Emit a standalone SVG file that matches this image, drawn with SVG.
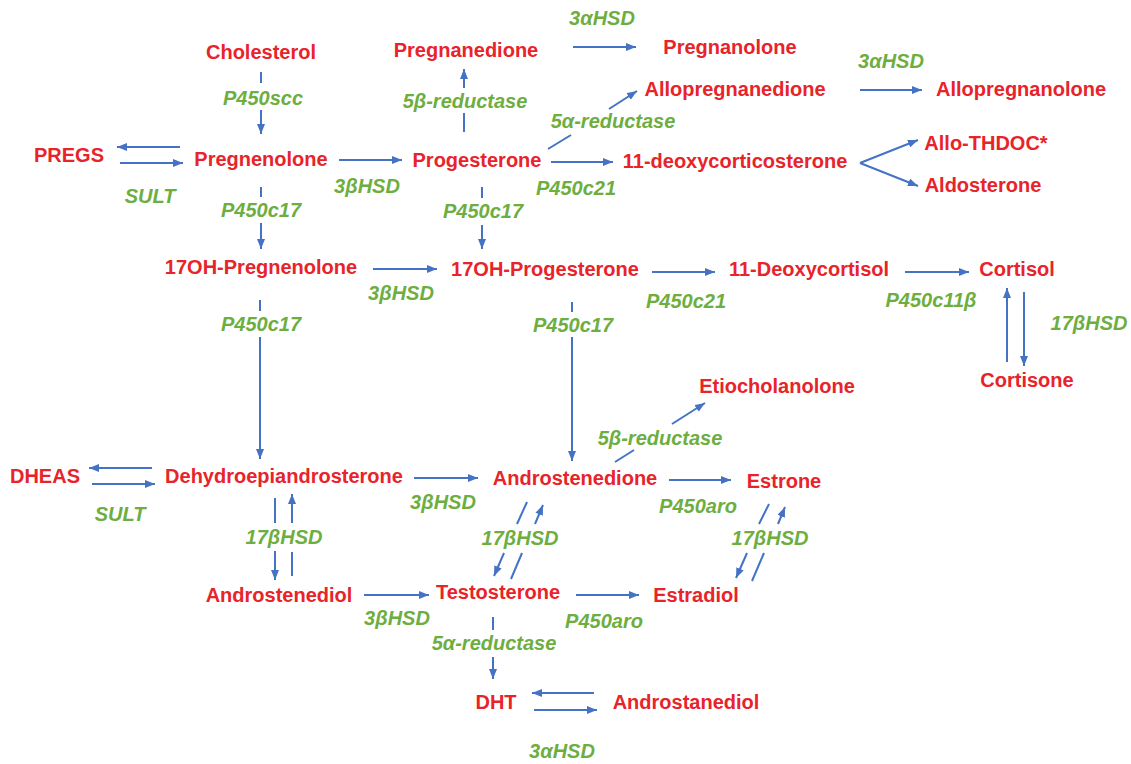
<svg xmlns="http://www.w3.org/2000/svg" width="1131" height="764" viewBox="0 0 1131 764">
<style>
.n{font-family:"Liberation Sans",Arial,sans-serif;font-weight:bold;font-size:20px;fill:#E8232A;text-anchor:middle}
.e{font-family:"Liberation Sans",Arial,sans-serif;font-weight:bold;font-style:italic;font-size:20px;fill:#6DAE3F;text-anchor:middle}
.c line{stroke:#4472C4;stroke-width:2;fill:none}
.c line.a{marker-end:url(#ah)}
</style>
<defs>
<marker id="ah" markerUnits="userSpaceOnUse" markerWidth="10" markerHeight="8" refX="10" refY="4" orient="auto">
<path d="M0,0 L10,4 L0,8 z" fill="#4472C4"/>
</marker>
</defs>
<rect width="1131" height="764" fill="#FFFFFF"/>
<g id="nodes">
<g id="cholesterol"><text class="n" x="261" y="59">Cholesterol</text></g>
<g id="pregnanedione"><text class="n" x="466" y="57">Pregnanedione</text></g>
<g id="pregnanolone"><text class="n" x="730" y="54">Pregnanolone</text></g>
<g id="allopregnanedione"><text class="n" x="735" y="96">Allopregnanedione</text></g>
<g id="allopregnanolone"><text class="n" x="1021" y="96">Allopregnanolone</text></g>
<g id="pregs"><text class="n" x="69" y="162">PREGS</text></g>
<g id="pregnenolone"><text class="n" x="261" y="166">Pregnenolone</text></g>
<g id="progesterone"><text class="n" x="477" y="167">Progesterone</text></g>
<g id="deoxycorticosterone"><text class="n" x="735" y="168">11-deoxycorticosterone</text></g>
<g id="allothdoc"><text class="n" x="986" y="150">Allo-THDOC*</text></g>
<g id="aldosterone"><text class="n" x="983" y="192">Aldosterone</text></g>
<g id="ohpregnenolone"><text class="n" x="261" y="274">17OH-Pregnenolone</text></g>
<g id="ohprogesterone"><text class="n" x="545" y="276">17OH-Progesterone</text></g>
<g id="deoxycortisol"><text class="n" x="809" y="276">11-Deoxycortisol</text></g>
<g id="cortisol"><text class="n" x="1017" y="276">Cortisol</text></g>
<g id="cortisone"><text class="n" x="1027" y="387">Cortisone</text></g>
<g id="etiocholanolone"><text class="n" x="777" y="393">Etiocholanolone</text></g>
<g id="dheas"><text class="n" x="45" y="483">DHEAS</text></g>
<g id="dhea"><text class="n" x="284" y="483">Dehydroepiandrosterone</text></g>
<g id="androstenedione"><text class="n" x="575" y="485">Androstenedione</text></g>
<g id="estrone"><text class="n" x="784" y="488">Estrone</text></g>
<g id="androstenediol"><text class="n" x="279" y="602">Androstenediol</text></g>
<g id="testosterone"><text class="n" x="498" y="599">Testosterone</text></g>
<g id="estradiol"><text class="n" x="696" y="602">Estradiol</text></g>
<g id="dht"><text class="n" x="496" y="709">DHT</text></g>
<g id="androstanediol"><text class="n" x="686" y="709">Androstanediol</text></g>
</g>
<g id="enzymes">
<text class="e" x="602" y="25">3αHSD</text>
<text class="e" x="891" y="68">3αHSD</text>
<text class="e" x="263" y="105">P450scc</text>
<text class="e" x="465" y="108">5β-reductase</text>
<text class="e" x="613" y="128">5α-reductase</text>
<text class="e" x="150" y="203">SULT</text>
<text class="e" x="367" y="193">3βHSD</text>
<text class="e" x="261" y="217">P450c17</text>
<text class="e" x="483" y="218">P450c17</text>
<text class="e" x="576" y="195">P450c21</text>
<text class="e" x="401" y="300">3βHSD</text>
<text class="e" x="261" y="331">P450c17</text>
<text class="e" x="573" y="332">P450c17</text>
<text class="e" x="686" y="308">P450c21</text>
<text class="e" x="931" y="307">P450c11β</text>
<text class="e" x="1089" y="330">17βHSD</text>
<text class="e" x="660" y="445">5β-reductase</text>
<text class="e" x="443" y="509">3βHSD</text>
<text class="e" x="120" y="521">SULT</text>
<text class="e" x="698" y="513">P450aro</text>
<text class="e" x="284" y="544">17βHSD</text>
<text class="e" x="520" y="545">17βHSD</text>
<text class="e" x="770" y="545">17βHSD</text>
<text class="e" x="397" y="625">3βHSD</text>
<text class="e" x="604" y="628">P450aro</text>
<text class="e" x="494" y="650">5α-reductase</text>
<text class="e" x="562" y="758">3αHSD</text>
</g>
<g id="connectors" class="c">
<!-- Cholesterol -> Pregnenolone -->
<line x1="261" y1="72" x2="261" y2="83"/>
<line class="a" x1="261" y1="110" x2="261" y2="134"/>
<!-- Progesterone -> Pregnanedione -->
<line x1="464" y1="113" x2="464" y2="132"/>
<line class="a" x1="464" y1="88" x2="464" y2="69"/>
<!-- Pregnanedione -> Pregnanolone -->
<line class="a" x1="573" y1="47" x2="636" y2="47"/>
<!-- Allopregnanedione -> Allopregnanolone -->
<line class="a" x1="860" y1="90" x2="922" y2="90"/>
<!-- Progesterone -> Allopregnanedione -->
<line x1="548" y1="149" x2="571" y2="135"/>
<line class="a" x1="609" y1="109" x2="637" y2="91"/>
<!-- PREGS <-> Pregnenolone -->
<line class="a" x1="180" y1="147" x2="117" y2="147"/>
<line class="a" x1="120" y1="163" x2="183" y2="163"/>
<!-- Pregnenolone -> Progesterone -->
<line class="a" x1="339" y1="160" x2="402" y2="160"/>
<!-- Progesterone -> 11-deoxycorticosterone -->
<line class="a" x1="551" y1="162" x2="613" y2="162"/>
<!-- 11-deoxycorticosterone branches -->
<line class="a" x1="860" y1="163" x2="918" y2="140"/>
<line class="a" x1="860" y1="163" x2="918" y2="186"/>
<!-- Pregnenolone -> 17OH-Pregnenolone -->
<line x1="261" y1="187" x2="261" y2="197"/>
<line class="a" x1="261" y1="223" x2="261" y2="249"/>
<!-- Progesterone -> 17OH-Progesterone -->
<line x1="482" y1="187" x2="482" y2="198"/>
<line class="a" x1="482" y1="225" x2="482" y2="249"/>
<!-- 17OH-Pregnenolone -> 17OH-Progesterone -->
<line class="a" x1="373" y1="269" x2="437" y2="269"/>
<!-- 17OH-Progesterone -> 11-Deoxycortisol -->
<line class="a" x1="652" y1="272" x2="715" y2="272"/>
<!-- 11-Deoxycortisol -> Cortisol -->
<line class="a" x1="905" y1="272" x2="969" y2="272"/>
<!-- Cortisol <-> Cortisone -->
<line class="a" x1="1007" y1="362" x2="1007" y2="288"/>
<line class="a" x1="1024" y1="292" x2="1024" y2="366"/>
<!-- 17OH-Pregnenolone -> DHEA -->
<line x1="260" y1="300" x2="260" y2="311"/>
<line class="a" x1="260" y1="337" x2="260" y2="459"/>
<!-- 17OH-Progesterone -> Androstenedione -->
<line x1="572" y1="302" x2="572" y2="312"/>
<line class="a" x1="572" y1="337" x2="572" y2="461"/>
<!-- DHEAS <-> DHEA -->
<line class="a" x1="152" y1="468" x2="89" y2="468"/>
<line class="a" x1="92" y1="484" x2="155" y2="484"/>
<!-- DHEA -> Androstenedione -->
<line class="a" x1="414" y1="478" x2="478" y2="478"/>
<!-- Androstenedione -> Etiocholanolone -->
<line x1="615" y1="462" x2="634" y2="450"/>
<line class="a" x1="672" y1="424" x2="705" y2="403"/>
<!-- Androstenedione -> Estrone -->
<line class="a" x1="669" y1="480" x2="731" y2="480"/>
<!-- DHEA <-> Androstenediol -->
<line x1="275" y1="498" x2="275" y2="523"/>
<line class="a" x1="275" y1="551" x2="275" y2="580"/>
<line x1="292" y1="576" x2="292" y2="552"/>
<line class="a" x1="292" y1="523" x2="292" y2="494"/>
<!-- Androstenedione <-> Testosterone -->
<line x1="527" y1="502" x2="517" y2="524"/>
<line class="a" x1="504" y1="553" x2="494" y2="576"/>
<line x1="511" y1="579" x2="522" y2="553"/>
<line class="a" x1="535" y1="524" x2="543" y2="505"/>
<!-- Estrone <-> Estradiol -->
<line x1="769" y1="504" x2="759" y2="524"/>
<line class="a" x1="747" y1="553" x2="736" y2="578"/>
<line x1="752" y1="581" x2="764" y2="553"/>
<line class="a" x1="778" y1="524" x2="785" y2="507"/>
<!-- Androstenediol -> Testosterone -->
<line class="a" x1="364" y1="595" x2="429" y2="595"/>
<!-- Testosterone -> Estradiol -->
<line class="a" x1="576" y1="595" x2="639" y2="595"/>
<!-- Testosterone -> DHT -->
<line x1="493" y1="617" x2="493" y2="630"/>
<line class="a" x1="493" y1="657" x2="493" y2="679"/>
<!-- DHT <-> Androstanediol -->
<line class="a" x1="594" y1="693" x2="532" y2="693"/>
<line class="a" x1="534" y1="710" x2="597" y2="710"/>
</g>
</svg>
